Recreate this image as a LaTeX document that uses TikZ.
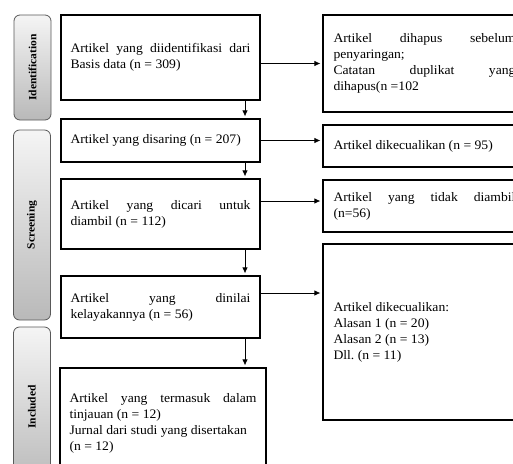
\documentclass[tikz,border=0pt]{standalone}
\usepackage{fontspec}
\setmainfont{Liberation Serif}[FakeStretch=1.05]
\usetikzlibrary{arrows.meta}
\hyphenpenalty=10000
\tolerance=10000
\frenchspacing

\begin{document}
\begin{tikzpicture}[x=1pt,y=-1pt,
  every node/.style={font=\fontsize{13}{16}\selectfont},
  leftbox/.style={draw,line width=1.2pt,text width=180pt,inner xsep=9.5pt,align=justify},
  rightbox/.style={draw,line width=1.2pt,text width=182pt,inner xsep=10.5pt,align=justify},
  phase/.style={draw=gray!70!black,line width=0.8pt,rounded corners=6pt,rotate=90,
    top color=gray!8,bottom color=gray!55,minimum height=37pt,inner sep=0pt,
    font=\fontsize{11}{12}\selectfont\bfseries},
  flow/.style={line width=0.8pt,shorten >=2pt,-{Latex[length=6pt,width=5.5pt]}}]

  \useasboundingbox (0,0) rectangle (513,463);
  \clip (0,0) rectangle (513,463);
  \fill[white] (0,0) rectangle (513,463);

  \node[phase,minimum width=105pt] (ident) at (32.5,67.5) {Identification};
  \node[phase,minimum width=190pt] (screen) at (32,225) {Screening};
  \node[phase,minimum width=160pt] (incl) at (32,407) {Included};

  \node[leftbox,minimum height=85pt] (found) at (160.5,57.5) {Artikel yang diidentifikasi dari\linebreak Basis data (n = 309)};
  \node[leftbox,minimum height=43pt] (screened) at (160.5,140.5) {Artikel yang disaring (n = 207)};
  \node[leftbox,minimum height=70pt] (sought) at (160.5,214) {Artikel yang dicari untuk\linebreak diambil (n = 112)};
  \node[leftbox,minimum height=62pt] (assessed) at (160.5,307) {Artikel yang dinilai\linebreak kelayakannya (n = 56)};
  \node[leftbox,text width=187pt,minimum height=110pt] (included) at (163,423) {Artikel yang termasuk dalam\linebreak tinjauan (n = 12)\\Jurnal dari studi yang disertakan\\(n = 12)};

  \node[rightbox,minimum height=97pt] (removed) at (424.5,63.5) {Artikel dihapus sebelum\linebreak penyaringan;\\Catatan duplikat yang\linebreak dihapus(n =102};
  \node[rightbox,minimum height=42pt] (excluded) at (424.5,146) {Artikel dikecualikan (n = 95)};
  \node[rightbox,minimum height=52pt] (notretr) at (424.5,206) {Artikel yang tidak diambil\linebreak (n=56)};
  \node[rightbox,minimum height=176pt] (reasons) at (424.5,332) {Artikel dikecualikan:\\Alasan 1 (n = 20)\\Alasan 2 (n = 13)\\Dll. (n = 11)};

  \draw[flow] ([xshift=84.5pt]found.south) -- ([xshift=84.5pt]screened.north);
  \draw[flow] ([xshift=84.5pt]screened.south) -- ([xshift=84.5pt]sought.north);
  \draw[flow] ([xshift=84.5pt]sought.south) -- ([xshift=84.5pt]assessed.north);
  \draw[flow] ([xshift=84.5pt]assessed.south) -- ([xshift=84.5pt]assessed.south |- included.north);

  \draw[flow] (found.east |- removed.west) -- (removed.west);
  \draw[flow] (screened.east) -- (screened.east -| excluded.west);
  \draw[flow] ([yshift=13pt]sought.east) -- ([yshift=13pt]sought.east -| notretr.west);
  \draw[flow] ([yshift=14pt]assessed.east) -- ([yshift=14pt]assessed.east -| reasons.west);

\end{tikzpicture}
\end{document}
